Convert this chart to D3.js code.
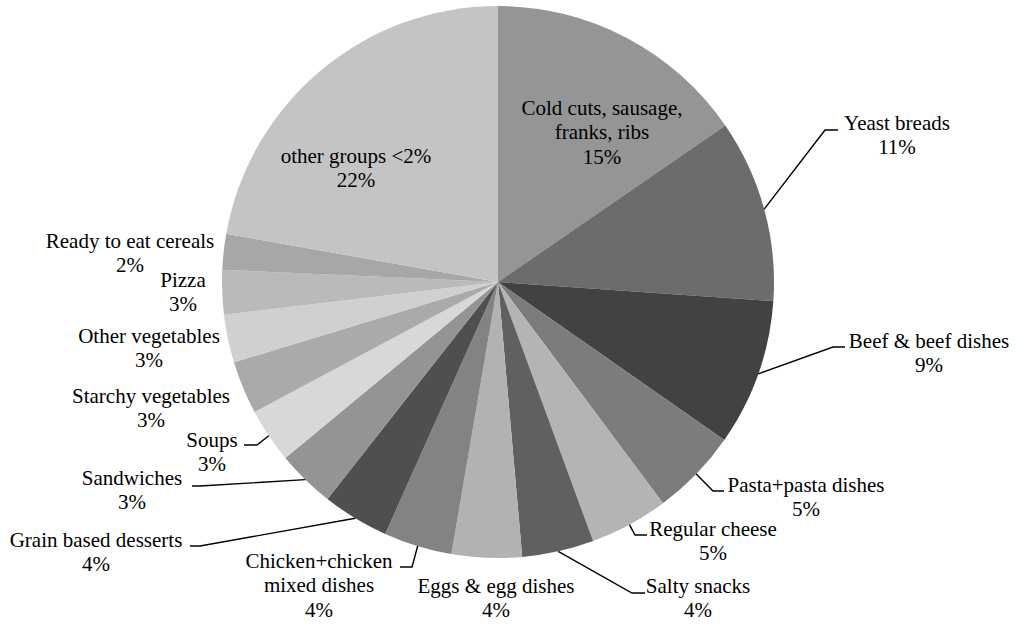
<!DOCTYPE html>
<html>
<head>
<meta charset="utf-8">
<script src="https://cdn.jsdelivr.net/npm/d3@7"></script>
</head>
<body style="margin:0">
<svg id="chart" width="1016" height="624"></svg>
<script>
// Food groups (clockwise from 12 o'clock) and their share of the total, in percent
const categories = [
  "Cold cuts, sausage,\nfranks, ribs",
  "Yeast breads",
  "Beef & beef dishes",
  "Pasta+pasta dishes",
  "Regular cheese",
  "Salty snacks",
  "Eggs & egg dishes",
  "Chicken+chicken\nmixed dishes",
  "Grain based desserts",
  "Sandwiches",
  "Soups",
  "Starchy vegetables",
  "Other vegetables",
  "Pizza",
  "Ready to eat cereals",
  "other groups <2%"
];
const shares = [15.4, 10.7, 8.6, 5.1, 4.6, 4.2, 4.1, 4.0, 3.9, 3.4, 3.2, 3.1, 2.8, 2.6, 2.1, 22.2];

// Grey shade for each slice
const fills = [
  "#959595", "#6c6c6c", "#424242", "#7c7c7c", "#b4b4b4", "#606060",
  "#b2b2b2", "#838383", "#4f4f4f", "#949494", "#d8d8d8", "#aaaaaa",
  "#d0d0d0", "#bababa", "#a7a7a7", "#c4c4c4"
];

// Label placement: text centre x and first baseline y; optional leader elbow and end x
const labelPos = [
  { x: 602, y: 115 },
  { x: 897, y: 130, elbow: [825, 130], endX: 838 },
  { x: 929, y: 348, elbow: [833, 347], endX: 845 },
  { x: 806, y: 492, elbow: [713, 491], endX: 724 },
  { x: 713, y: 536, elbow: [635, 535], endX: 647 },
  { x: 698, y: 593, elbow: [632, 593], endX: 645 },
  { x: 496, y: 593 },
  { x: 319, y: 568, elbow: [412, 567], endX: 400 },
  { x: 96,  y: 547, elbow: [200, 546], endX: 190 },
  { x: 132, y: 485, elbow: [200, 486], endX: 192 },
  { x: 212, y: 447, elbow: [257, 445], endX: 244 },
  { x: 151, y: 403 },
  { x: 149, y: 343 },
  { x: 183, y: 287 },
  { x: 130, y: 248 },
  { x: 356, y: 163 }
];

const cx = 498, cy = 282, radius = 276, lineGap = 24.4;

const items = categories.map((name, i) => ({ name, value: shares[i], i }));
const total = d3.sum(shares);
const pct = v => Math.round(v / total * 100) + "%";

const pie = d3.pie().value(d => d.value).sort(null)
  .startAngle(0).endAngle(2 * Math.PI);
const arcs = pie(items);

const arc = d3.arc().innerRadius(0).outerRadius(radius);
const edgeArc = d3.arc().innerRadius(radius).outerRadius(radius);

const svg = d3.select("#chart");
const g = svg.append("g").attr("transform", `translate(${cx},${cy})`);

g.selectAll("path.slice")
  .data(arcs)
  .join("path")
  .attr("class", "slice")
  .attr("d", arc)
  .attr("fill", d => fills[d.data.i]);

// Leader lines from each slice's outer edge to its label
arcs.forEach(d => {
  const p = labelPos[d.data.i];
  if (!p.elbow) return;
  const [sx, sy] = edgeArc.centroid(d);
  const pts = [[sx + cx, sy + cy], p.elbow, [p.endX, p.elbow[1]]];
  svg.append("path")
    .attr("d", d3.line()(pts))
    .attr("fill", "none")
    .attr("stroke", "#000")
    .attr("stroke-width", 1.4);
});

// Labels: category name lines followed by the rounded share, one text per line
arcs.forEach(d => {
  const p = labelPos[d.data.i];
  const rows = d.data.name.split("\n").concat([pct(d.data.value)]);
  rows.forEach((r, k) => {
    svg.append("text")
      .attr("x", p.x)
      .attr("y", p.y + k * lineGap)
      .attr("font-family", "Liberation Serif")
      .attr("font-size", 21)
      .attr("text-anchor", "middle")
      .text(r);
  });
});
</script>
</body>
</html>
